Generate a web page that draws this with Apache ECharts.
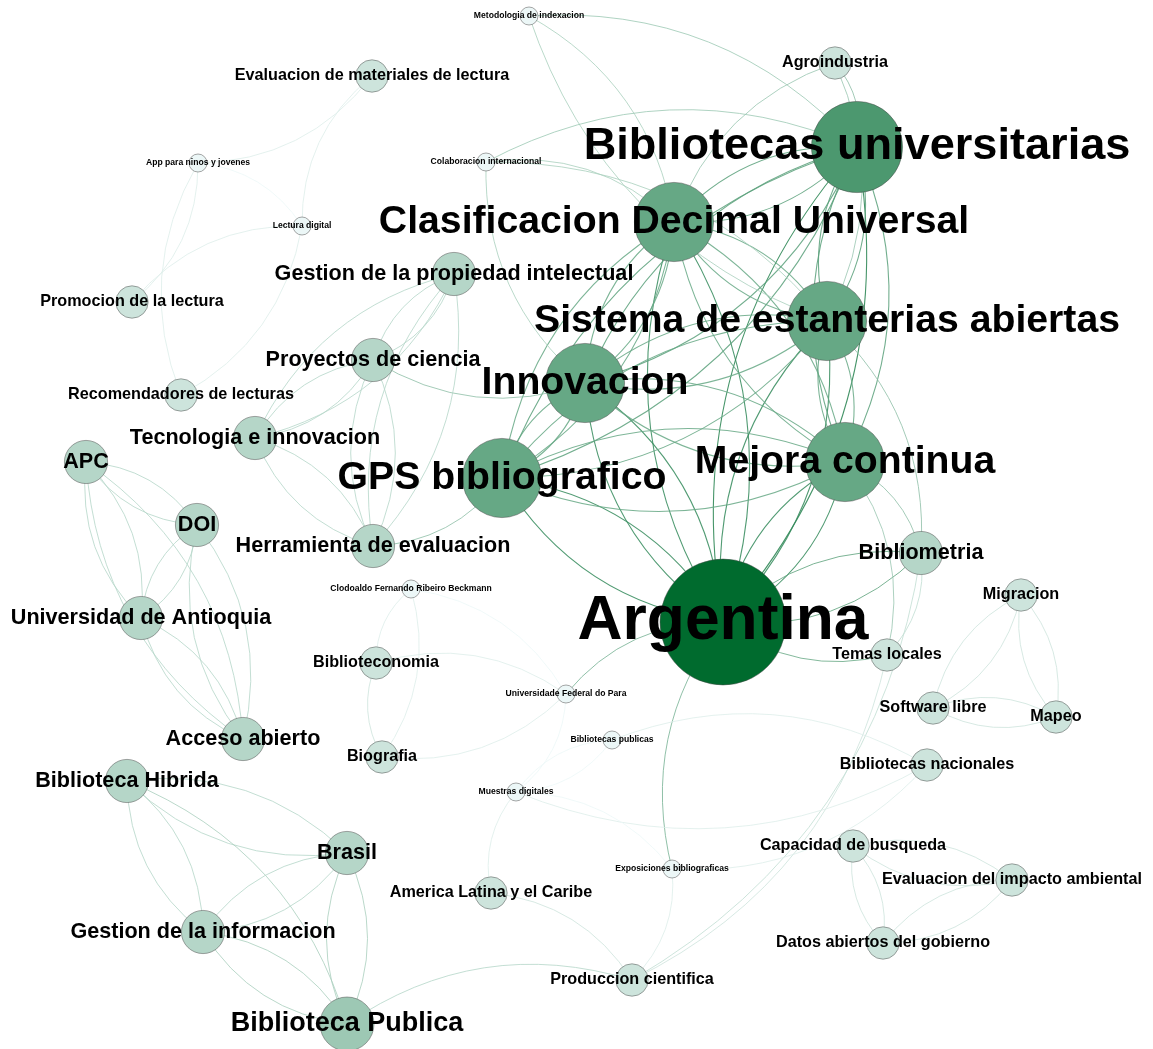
<!DOCTYPE html>
<html>
<head>
<meta charset="utf-8">
<script src="https://cdn.jsdelivr.net/npm/echarts@6/dist/echarts.min.js"></script>
<style>
html,body{margin:0;padding:0;background:#ffffff;}
#chart{width:1153px;height:1049px;}
</style>
</head>
<body>
<div id="chart"></div>
<script>
// ---- DATA ----
const nodeNames = [
  "Argentina","Bibliotecas universitarias","Clasificacion Decimal Universal","Sistema de estanterias abiertas",
  "Innovacion","GPS bibliografico","Mejora continua","Biblioteca Publica",
  "Gestion de la propiedad intelectual","Proyectos de ciencia","Tecnologia e innovacion","Herramienta de evaluacion",
  "APC","DOI","Universidad de Antioquia","Acceso abierto","Bibliometria","Biblioteca Hibrida","Brasil",
  "Gestion de la informacion","Agroindustria","Evaluacion de materiales de lectura","Promocion de la lectura",
  "Recomendadores de lecturas","Migracion","Temas locales","Biblioteconomia","Software libre","Mapeo","Biografia",
  "Bibliotecas nacionales","Capacidad de busqueda","America Latina y el Caribe","Evaluacion del impacto ambiental",
  "Datos abiertos del gobierno","Produccion cientifica","Metodologia de indexacion","App para ninos y jovenes",
  "Colaboracion internacional","Lectura digital","Clodoaldo Fernando Ribeiro Beckmann","Universidade Federal do Para",
  "Bibliotecas publicas","Muestras digitales","Exposiciones bibliograficas"
];
const nodeX = [723,857,674,827,585,502,845,347,454,373,255,373,86,197,141,243,921,127,347,203,835,372,132,181,1021,887,376,933,1056,382,927,853,491,1012,883,632,529,198,486,302,411,566,612,516,672];
const nodeY = [622,147,222,321,383,478,462,1024,274,360,438,546,462,525,618,739,553,781,853,932,63,76,302,395,595,655,663,708,717,757,765,846,893,880,943,980,16,163,162,226,589,694,740,792,869];
// node weight (relative importance of each keyword)
const nodeWeight = [10,7.1,6.1,6.1,6.1,6.1,6.1,4,3.1,3.1,3.1,3.1,3.1,3.1,3.1,3.1,3.1,3.1,3.1,3.1,2.2,2.2,2.2,2.2,2.2,2.2,2.2,2.2,2.2,2.2,2.2,2.2,2.2,2.2,2.2,2.2,1,1,1,1,1,1,1,1,1];

const coreNodes = ["Argentina","Bibliotecas universitarias","Clasificacion Decimal Universal","Sistema de estanterias abiertas","Innovacion","GPS bibliografico","Mejora continua"];

const otherEdges = [
  ["Metodologia de indexacion","Bibliotecas universitarias"],
  ["Metodologia de indexacion","Clasificacion Decimal Universal"],
  ["Sistema de estanterias abiertas","Metodologia de indexacion"],
  ["Agroindustria","Bibliotecas universitarias"],
  ["Clasificacion Decimal Universal","Agroindustria"],
  ["Agroindustria","Sistema de estanterias abiertas"],
  ["Colaboracion internacional","Clasificacion Decimal Universal"],
  ["Colaboracion internacional","Bibliotecas universitarias"],
  ["Innovacion","Colaboracion internacional"],
  ["Colaboracion internacional","Sistema de estanterias abiertas"],
  ["Mejora continua","Bibliometria"],
  ["Bibliometria","Argentina"],["Argentina","Bibliometria"],
  ["Sistema de estanterias abiertas","Bibliometria"],
  ["Temas locales","Argentina"],
  ["Mejora continua","Temas locales"],
  ["Bibliometria","Temas locales"],
  ["Universidade Federal do Para","Argentina"],
  ["Exposiciones bibliograficas","Argentina"],
  ["GPS bibliografico","Herramienta de evaluacion"],
  ["Innovacion","Proyectos de ciencia"],
  ["Temas locales","Produccion cientifica"],
  ["Bibliometria","Produccion cientifica"],
  ["Bibliotecas nacionales","Muestras digitales"],
  ["Bibliotecas nacionales","Exposiciones bibliograficas"],
  ["Bibliotecas publicas","Bibliotecas nacionales"],
  ["Universidade Federal do Para","Muestras digitales"],
  ["Muestras digitales","Bibliotecas publicas"],["Bibliotecas publicas","Muestras digitales"],
  ["America Latina y el Caribe","Muestras digitales"],
  ["Muestras digitales","Exposiciones bibliograficas"],
  ["America Latina y el Caribe","Produccion cientifica"],
  ["Exposiciones bibliograficas","Produccion cientifica"],
  ["Clodoaldo Fernando Ribeiro Beckmann","Universidade Federal do Para"],
  ["Biblioteconomia","Clodoaldo Fernando Ribeiro Beckmann"],
  ["Clodoaldo Fernando Ribeiro Beckmann","Biografia"],
  ["Biblioteconomia","Universidade Federal do Para"],
  ["Universidade Federal do Para","Biografia"],
  ["Biografia","Biblioteconomia"],
  ["Biblioteca Publica","Produccion cientifica"],
  ["Biblioteca Hibrida","Brasil"],["Brasil","Biblioteca Hibrida"],
  ["Biblioteca Hibrida","Gestion de la informacion"],["Gestion de la informacion","Biblioteca Hibrida"],
  ["Biblioteca Hibrida","Biblioteca Publica"],
  ["Brasil","Gestion de la informacion"],["Gestion de la informacion","Brasil"],
  ["Brasil","Biblioteca Publica"],["Biblioteca Publica","Brasil"],
  ["Gestion de la informacion","Biblioteca Publica"],["Biblioteca Publica","Gestion de la informacion"],
  ["APC","DOI"],["DOI","APC"],
  ["APC","Universidad de Antioquia"],["Universidad de Antioquia","APC"],
  ["APC","Acceso abierto"],["Acceso abierto","APC"],
  ["DOI","Universidad de Antioquia"],["Universidad de Antioquia","DOI"],
  ["DOI","Acceso abierto"],["Acceso abierto","DOI"],
  ["Universidad de Antioquia","Acceso abierto"],["Acceso abierto","Universidad de Antioquia"],
  ["Gestion de la propiedad intelectual","Proyectos de ciencia"],["Proyectos de ciencia","Gestion de la propiedad intelectual"],
  ["Gestion de la propiedad intelectual","Tecnologia e innovacion"],["Tecnologia e innovacion","Gestion de la propiedad intelectual"],
  ["Gestion de la propiedad intelectual","Herramienta de evaluacion"],["Herramienta de evaluacion","Gestion de la propiedad intelectual"],
  ["Proyectos de ciencia","Tecnologia e innovacion"],["Tecnologia e innovacion","Proyectos de ciencia"],
  ["Proyectos de ciencia","Herramienta de evaluacion"],["Herramienta de evaluacion","Proyectos de ciencia"],
  ["Tecnologia e innovacion","Herramienta de evaluacion"],["Herramienta de evaluacion","Tecnologia e innovacion"],
  ["Migracion","Software libre"],["Software libre","Migracion"],
  ["Migracion","Mapeo"],["Mapeo","Migracion"],
  ["Software libre","Mapeo"],["Mapeo","Software libre"],
  ["Capacidad de busqueda","Evaluacion del impacto ambiental"],["Evaluacion del impacto ambiental","Capacidad de busqueda"],
  ["Capacidad de busqueda","Datos abiertos del gobierno"],["Datos abiertos del gobierno","Capacidad de busqueda"],
  ["Evaluacion del impacto ambiental","Datos abiertos del gobierno"],["Datos abiertos del gobierno","Evaluacion del impacto ambiental"],
  ["Evaluacion de materiales de lectura","App para ninos y jovenes"],
  ["Lectura digital","Evaluacion de materiales de lectura"],
  ["App para ninos y jovenes","Lectura digital"],
  ["App para ninos y jovenes","Promocion de la lectura"],
  ["Recomendadores de lecturas","App para ninos y jovenes"],
  ["Promocion de la lectura","Lectura digital"],
  ["Lectura digital","Recomendadores de lecturas"]
];

// ---- BUILD ----
const light = [236,247,247], dark = [0,107,46];
function weightColor(w){
  const t = Math.min(1, Math.max(0, (w - 1) / 9));
  return light.map((c,i)=>Math.round(c + (dark[i]-c)*t));
}
function weightRadius(w){ return 9 + 6*(w - 1); }
function labelSize(w){ const r = weightRadius(w); return w < 1.5 ? 8.6 : (w < 5 ? r*1.0 : r*0.99); }
function toHex(rgb){ return '#' + rgb.map(v=>v.toString(16).padStart(2,'0')).join(''); }

const idx = {};
nodeNames.forEach((n,i)=>{ idx[n]=i; });

const nodes = nodeNames.map((name,i)=>{
  const r = weightRadius(nodeWeight[i]);
  return {
    name: name,
    value: [nodeX[i], nodeY[i]],
    symbolSize: r*2,
    itemStyle: { color: toHex(weightColor(nodeWeight[i])) },
    label: { fontSize: labelSize(nodeWeight[i]) }
  };
});

const edgeList = [];
for (let a=0;a<coreNodes.length;a++){
  for (let b=a+1;b<coreNodes.length;b++){
    edgeList.push([coreNodes[a],coreNodes[b]]);
    edgeList.push([coreNodes[b],coreNodes[a]]);
  }
}
otherEdges.forEach(e=>edgeList.push(e));

const links = edgeList.map(([s,t])=>{
  const cs = weightColor(nodeWeight[idx[s]]), ct = weightColor(nodeWeight[idx[t]]);
  const mix = cs.map((c,i)=>Math.round((c+ct[i])/2));
  const strong = nodeWeight[idx[s]]>5 && nodeWeight[idx[t]]>5;
  return {
    source: idx[s], target: idx[t],
    lineStyle: { color: toHex(mix), width: strong ? 1.1 : 0.9, opacity: strong ? 0.85 : 0.9, curveness: 0.24 }
  };
});

const chart = echarts.init(document.getElementById('chart'), null, {renderer:'canvas'});
chart.setOption({
  backgroundColor: '#ffffff',
  animation: false,
  grid: {left:0,right:0,top:0,bottom:0},
  xAxis: {type:'value', min:0, max:1153, show:false},
  yAxis: {type:'value', min:0, max:1049, inverse:true, show:false},
  series: [{
    type: 'graph',
    coordinateSystem: 'cartesian2d',
    layout: 'none',
    silent: true,
    data: nodes,
    links: links,
    itemStyle: { borderColor: 'rgba(70,70,70,0.6)', borderWidth: 0.8 },
    label: {
      show: true, position: 'inside', formatter: '{b}',
      color: '#000000', fontWeight: 'bold',
      fontFamily: '"Liberation Sans", Arial, sans-serif'
    },
    lineStyle: { curveness: 0.24 },
    emphasis: { disabled: true }
  }]
});
</script>
</body>
</html>
